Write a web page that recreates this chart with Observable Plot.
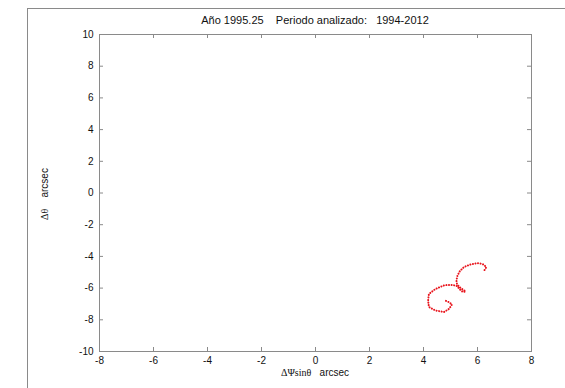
<!DOCTYPE html>
<html>
<head>
<meta charset="utf-8">
<script src="https://cdn.jsdelivr.net/npm/d3@7"></script>
<script src="https://cdn.jsdelivr.net/npm/@observablehq/plot@0.6"></script>
<style>
  html, body { margin: 0; padding: 0; background: #fff; }
  #wrap { position: relative; width: 565px; height: 388px; overflow: hidden; font-family: "Liberation Sans", Arial, sans-serif; }
  #border { position: absolute; left: 27px; top: 8px; right: -2px; bottom: -2px; border-left: 1px solid #8a8a8a; border-top: 1px solid #8a8a8a; }
  #title { position: absolute; top: 14px; left: 0; width: 630px; text-align: center; font-size: 11px; color: #111; white-space: pre; }
  #xlabel { position: absolute; top: 367px; left: 0; width: 630px; text-align: center; font-size: 10px; color: #111; white-space: pre; }
  #ylabel { position: absolute; left: 44px; top: 194px; transform: translate(-50%, -50%) rotate(-90deg); font-size: 10px; color: #111; white-space: pre; }
  .sym { font-family: "Liberation Serif", "DejaVu Serif", serif; font-size: 10px; }
  #chart { position: absolute; left: 0; top: 0; }
</style>
</head>
<body>
<div id="wrap">
  <div id="chart"></div>
  <div id="border"></div>
  <div id="title">Año 1995.25    Periodo analizado:   1994-2012</div>
  <div id="xlabel"><span class="sym">ΔΨsinθ</span>   arcsec</div>
  <div id="ylabel"><span class="sym">Δθ</span>    arcsec</div>
</div>
<script>
// Tick values
const xTicks = [-8, -6, -4, -2, 0, 2, 4, 6, 8];
const yTicks = [-10, -8, -6, -4, -2, 0, 2, 4, 6, 8, 10];

// Trajectory (ΔΨ sinθ, Δθ) in arcsec
const dPsiSin = [6.26, 6.33, 6.19, 6.00, 5.74, 5.50, 5.35, 5.26, 5.22, 5.24, 5.33, 5.48, 5.56, 5.46, 5.35, 5.24, 5.07, 4.89, 4.74, 4.44, 4.20, 4.17, 4.20, 4.44, 4.76, 4.94, 5.06, 4.93, 4.76];
const dTheta  = [-4.86, -4.67, -4.48, -4.42, -4.51, -4.67, -4.92, -5.20, -5.52, -5.74, -5.93, -6.12, -6.21, -6.25, -6.09, -5.87, -5.80, -5.80, -5.84, -6.06, -6.37, -6.78, -7.19, -7.41, -7.51, -7.32, -7.03, -6.88, -6.75];

const pts = dPsiSin.map((x, i) => ({x, y: dTheta[i]}));

const W = 565, H = 388;
const mT = 34, mB = 37, mL = 99, mR = 34;
const innerH = H - mT - mB;
const innerW = W - mL - mR;
const tickLen = 4;
const axisColor = "#8a8a8a";

const chart = Plot.plot({
  width: W,
  height: H,
  marginTop: mT,
  marginBottom: mB,
  marginLeft: mL,
  marginRight: mR,
  style: {fontFamily: "Liberation Sans, Arial, sans-serif", fontSize: "10px", color: "#111", background: "transparent"},
  x: {domain: [-8, 8], ticks: xTicks},
  y: {domain: [-10, 10], ticks: yTicks},
  marks: [
    // inward ticks on all four sides
    Plot.ruleX(xTicks, {x: d => d, stroke: axisColor, insetTop: innerH - tickLen}),
    Plot.ruleX(xTicks, {x: d => d, stroke: axisColor, insetBottom: innerH - tickLen}),
    Plot.ruleY(yTicks, {y: d => d, stroke: axisColor, insetRight: innerW - tickLen}),
    Plot.ruleY(yTicks, {y: d => d, stroke: axisColor, insetLeft: innerW - tickLen}),
    Plot.frame({stroke: axisColor}),
    Plot.axisX(xTicks, {anchor: "bottom", tickSize: 0, tickPadding: 5, tickFormat: d => String(d), label: null}),
    Plot.axisY(yTicks, {anchor: "left", tickSize: 0, tickPadding: 6, tickFormat: d => String(d), label: null}),
    Plot.line(pts, {x: "x", y: "y", stroke: "#e8141c", strokeWidth: 2, strokeLinecap: "round", strokeDasharray: "0.1,2.5"})
  ]
});
document.getElementById("chart").appendChild(chart);
</script>
</body>
</html>
